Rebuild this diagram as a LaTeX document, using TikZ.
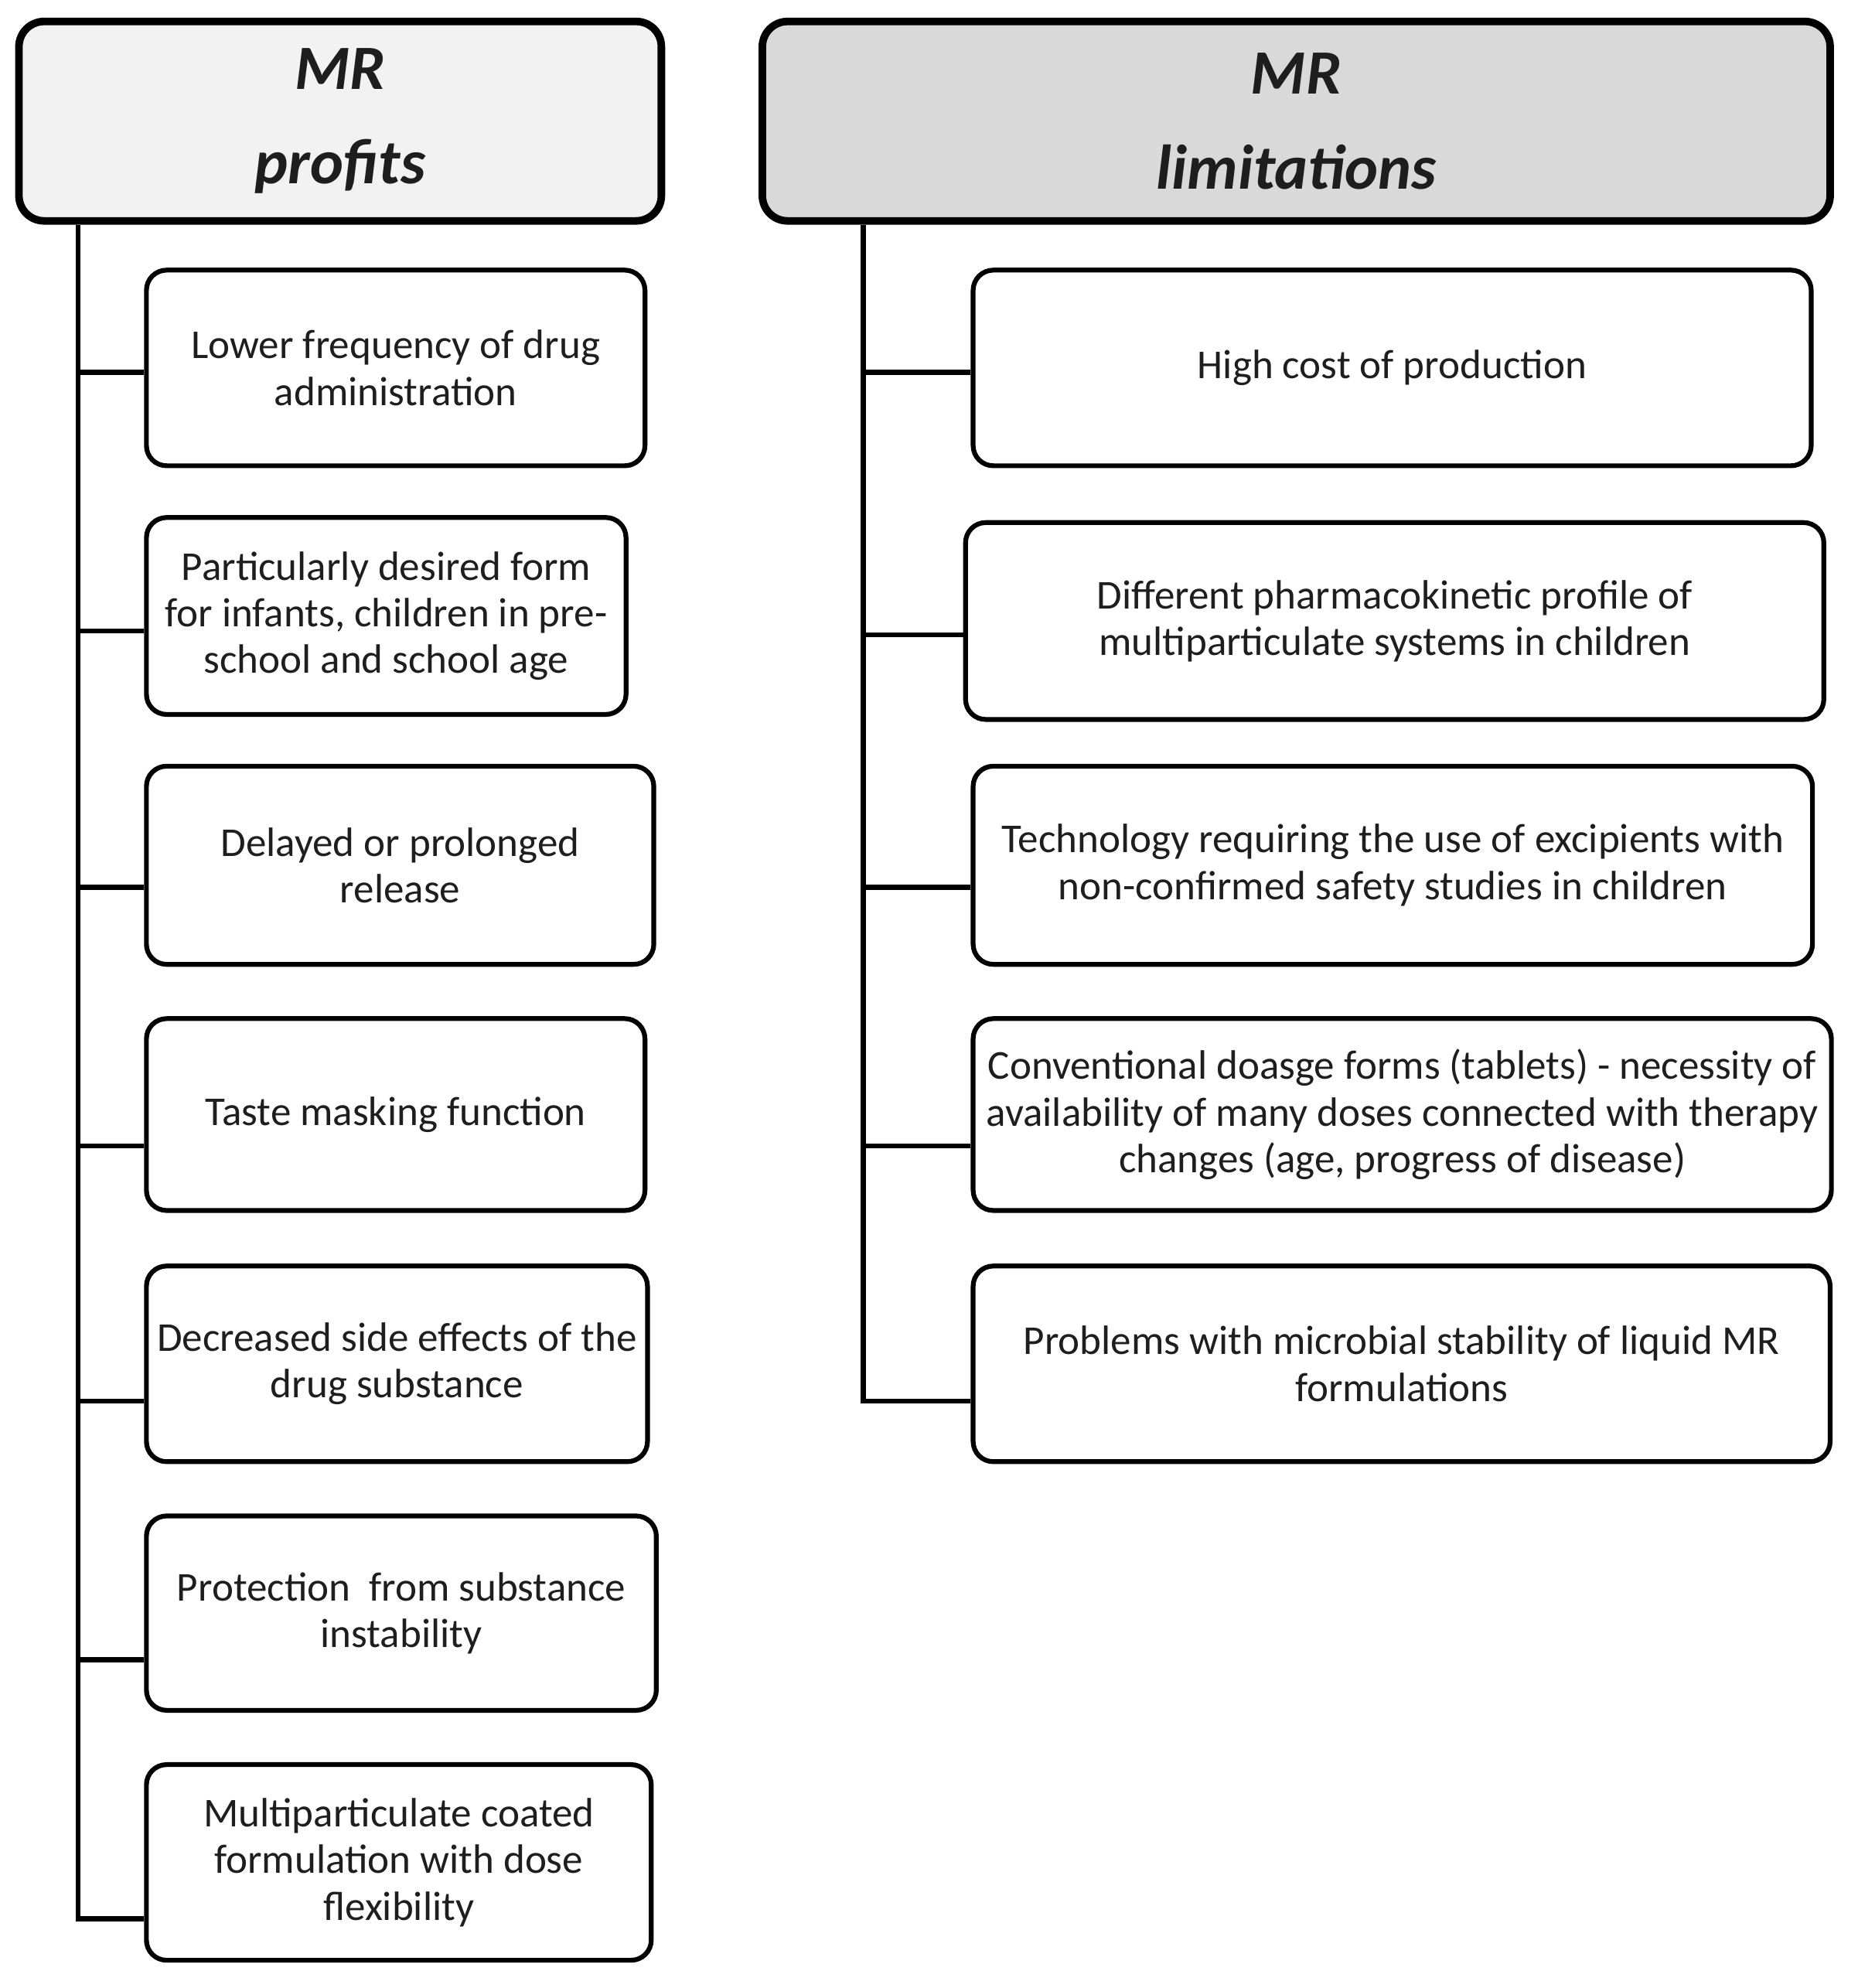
\documentclass[tikz,border=0pt]{standalone}
\usepackage{fontspec}
\setmainfont{Carlito}
\usetikzlibrary{calc}
\definecolor{hdrL}{HTML}{F2F2F2}
\definecolor{hdrR}{HTML}{D9D9D9}
\definecolor{txt}{HTML}{1E1E1E}
\begin{document}
\begin{tikzpicture}[x=1pt,y=-1pt,
  hdr/.style={draw=black,line width=6pt,rounded corners=20pt,inner sep=0pt,align=center,
    text=txt,font=\fontsize{50}{75}\selectfont\bfseries\itshape},
  item/.style={draw=black,fill=white,line width=3.8pt,rounded corners=16pt,inner sep=0pt,align=center,
    text=txt,font=\fontsize{32.5}{37}\selectfont},
  conn/.style={draw=black,line width=4pt}]
\useasboundingbox (0,0) rectangle (1472,1575);
% headers
\node[hdr,fill=hdrL,minimum width=509pt,minimum height=158pt] (hL) at (269.5,96) {MR\\profits};
\node[hdr,fill=hdrR,minimum width=846pt,minimum height=158pt] (hR) at (1027,96) {MR\\limitations};
\coordinate (tL) at (62,180);
\coordinate (tR) at (684,180);
% left items
\node[item,minimum width=395pt,minimum height=155pt] (L1) at (313.5,291.5) {Lower frequency of drug\\administration};
\node[item,minimum width=380pt,minimum height=156pt] (L2) at (306,488) {Particularly desired form\\for infants, children in pre-\\school and school age};
\node[item,minimum width=402pt,minimum height=157pt] (L3) at (317,685.5) {Delayed or prolonged\\release};
\node[item,minimum width=395pt,minimum height=152pt] (L4) at (313.5,883) {Taste masking function};
\node[item,minimum width=397pt,minimum height=155pt] (L5) at (314.5,1080.5) {Decreased side effects of the\\drug substance};
\node[item,minimum width=404pt,minimum height=154pt] (L6) at (318,1278) {Protection\ \ from substance\\instability};
\node[item,minimum width=400pt,minimum height=155pt] (L7) at (316,1475.5) {Multiparticulate coated\\formulation with dose\\flexibility};
% right items
\node[item,minimum width=664pt,minimum height=155pt] (R1) at (1103,291.5) {High cost of production};
\node[item,minimum width=680pt,minimum height=156pt] (R2) at (1105,492) {Different pharmacokinetic profile of\\multiparticulate systems in children};
\node[item,minimum width=665pt,minimum height=157pt] (R3) at (1103.5,685.5) {Technology requiring the use of excipients with\\non-confirmed safety studies in children};
\node[item,minimum width=680pt,minimum height=152pt] (R4) at (1111,883) {Conventional doasge forms (tablets) - necessity of\\availability of many doses connected with therapy\\changes (age, progress of disease)};
\node[item,minimum width=679pt,minimum height=155pt] (R5) at (1110.5,1080.5) {Problems with microbial stability of liquid MR\\formulations};
% connector points
\path ([yshift=-3.5pt]L1.west) coordinate (pL1);
\path ([yshift=-12pt]L2.west) coordinate (pL2);
\path ([yshift=-17.5pt]L3.west) coordinate (pL3);
\path ([yshift=-25pt]L4.west) coordinate (pL4);
\path ([yshift=-29.5pt]L5.west) coordinate (pL5);
\path ([yshift=-37pt]L6.west) coordinate (pL6);
\path ([yshift=-44.5pt]L7.west) coordinate (pL7);
\path ([yshift=-3.5pt]R1.west) coordinate (pR1);
\path ([yshift=-11pt]R2.west) coordinate (pR2);
\path ([yshift=-17.5pt]R3.west) coordinate (pR3);
\path ([yshift=-25pt]R4.west) coordinate (pR4);
\path ([yshift=-29.5pt]R5.west) coordinate (pR5);
% trunks
\draw[conn] (hL.south -| tL) -- (pL7 -| tL) -- (pL7);
\foreach \p in {pL1,pL2,pL3,pL4,pL5,pL6} \draw[conn] (\p -| tL) -- (\p);
\draw[conn] (hR.south -| tR) -- (pR5 -| tR) -- (pR5);
\foreach \p in {pR1,pR2,pR3,pR4} \draw[conn] (\p -| tR) -- (\p);
\end{tikzpicture}
\end{document}
